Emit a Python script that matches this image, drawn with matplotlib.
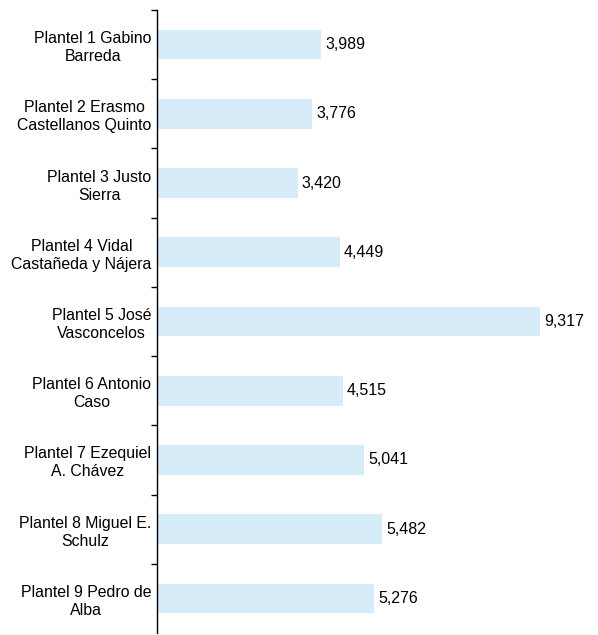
import matplotlib.pyplot as plt
import numpy as np

plt.rcParams['font.family'] = ['Liberation Sans', 'DejaVu Sans']

planteles = ['Plantel 1 Gabino\nBarreda',
             'Plantel 2 Erasmo\nCastellanos Quinto',
             'Plantel 3 Justo\nSierra',
             'Plantel 4 Vidal\nCastañeda y Nájera',
             'Plantel 5 José\nVasconcelos',
             'Plantel 6 Antonio\nCaso',
             'Plantel 7 Ezequiel\nA. Chávez',
             'Plantel 8 Miguel E.\nSchulz',
             'Plantel 9 Pedro de\nAlba']
alumnos = [3989, 3776, 3420, 4449, 9317, 4515, 5041, 5482, 5276]

fig = plt.figure(figsize=(5.98, 6.35), dpi=100)
ax = fig.add_axes([157 / 598, 2 / 635, 411 / 598, 623 / 635])

y = np.arange(len(planteles))
ax.barh(y, alumnos, height=0.43, color='#D7ECF9')

for yi, v in zip(y, alumnos):
    ax.annotate('{:,}'.format(v), (v, yi), xytext=(3, 0), textcoords='offset points',
                va='center', ha='left', fontsize=11.5)

ax.set_xlim(0, 10000)
ax.set_ylim(len(planteles) - 0.5, -0.5)

ax.set_yticks(y)
ax.set_yticklabels(planteles, fontsize=11.4, multialignment='center', linespacing=1.25)
ax.tick_params(axis='y', which='major', length=0, pad=4)
ax.set_yticks(np.arange(-0.5, len(planteles) - 0.5, 1), minor=True)
ax.tick_params(axis='y', which='minor', length=4, width=1, direction='out')
ax.set_xticks([])

for s in ['top', 'right', 'bottom']:
    ax.spines[s].set_visible(False)
ax.spines['left'].set_linewidth(1)

fig.savefig('out.png', dpi=100)
